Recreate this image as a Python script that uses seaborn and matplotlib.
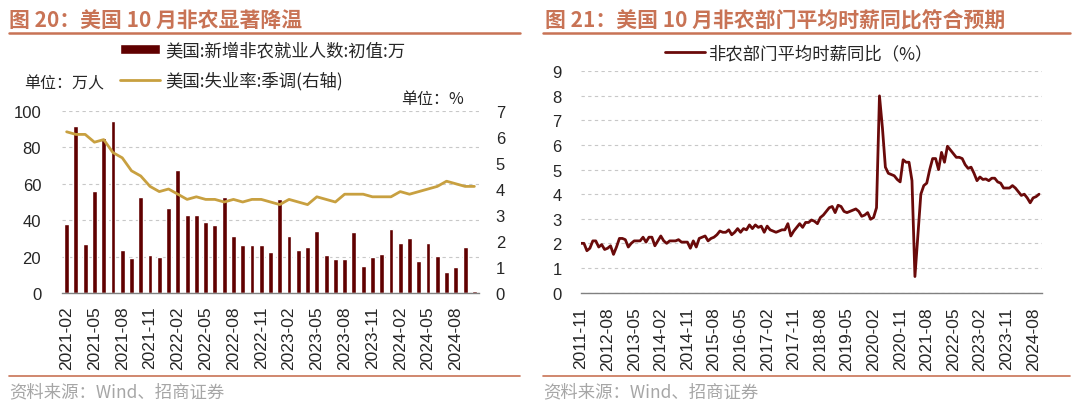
import pandas as pd
import matplotlib
matplotlib.use('Agg')
import matplotlib.pyplot as plt
import seaborn as sns
from matplotlib.lines import Line2D
from matplotlib.patches import Patch

sns.set_style("white")
plt.rcParams['font.family'] = ['Liberation Sans', 'Noto Sans CJK SC']
plt.rcParams['axes.unicode_minus'] = False
CJK = ['Noto Sans CJK SC', 'DejaVu Sans']

# 图20：新增非农（万人）与失业率（%）
nfp_months = pd.period_range('2021-02', '2024-10', freq='M').strftime('%Y-%m').tolist()
nfp_added = [38, 92, 27, 56, 85, 94.5, 23.5, 19.4, 53, 21, 20,
             46.7, 67.8, 43.1, 42.8, 39, 37.2, 52.8, 31.5, 26.3, 26.1, 26.3, 22.3,
             51.7, 31.1, 23.6, 25.3, 33.9, 20.9, 18.7, 18.7, 33.6, 15.0, 19.9, 21.6,
             35.3, 27.5, 30.3, 17.5, 27.2, 20.6, 11.4, 14.2, 25.4, 1.2]
unemp_rate = [6.2, 6.1, 6.1, 5.8, 5.9, 5.4, 5.2, 4.7, 4.5, 4.1, 3.9,
              4.0, 3.8, 3.6, 3.7, 3.6, 3.6, 3.5, 3.6, 3.5, 3.6, 3.6, 3.5,
              3.4, 3.6, 3.5, 3.4, 3.7, 3.6, 3.5, 3.8, 3.8, 3.8, 3.7, 3.7,
              3.7, 3.9, 3.8, 3.9, 4.0, 4.1, 4.3, 4.2, 4.1, 4.1]

# 图21：非农部门平均时薪同比（%）
wage_months = pd.period_range('2011-11', '2024-10', freq='M').strftime('%Y-%m').tolist()
wage_yoy = [2.0, 2.0, 1.7, 1.8, 2.1, 2.1, 1.85, 1.95, 1.75, 1.8,
            1.9, 1.55, 1.85, 2.2, 2.2, 2.15, 1.85, 2.0, 2.1, 2.1,
            2.1, 2.25, 2.05, 2.25, 2.25, 1.9, 2.1, 2.3, 2.1, 2.0,
            2.1, 2.1, 2.1, 2.15, 2.05, 2.05, 2.05, 1.8, 2.1, 1.85,
            2.2, 2.25, 2.3, 2.1, 2.2, 2.25, 2.35, 2.5, 2.45, 2.45,
            2.55, 2.35, 2.45, 2.6, 2.45, 2.6, 2.55, 2.75, 2.6, 2.75,
            2.65, 2.7, 2.45, 2.7, 2.55, 2.5, 2.45, 2.5, 2.55, 2.55,
            2.8, 2.3, 2.5, 2.65, 2.8, 2.65, 2.85, 2.85, 2.95, 2.9,
            2.8, 3.05, 3.15, 3.3, 3.45, 3.5, 3.25, 3.55, 3.5, 3.3,
            3.25, 3.3, 3.35, 3.4, 3.3, 3.1, 3.15, 3.25, 2.98, 3.05,
            3.45, 8.0, 6.7, 5.1, 4.85, 4.8, 4.75, 4.6, 4.5, 5.4,
            5.3, 5.3, 4.55, 0.65, 2.3, 4.0, 4.35, 4.45, 5.0, 5.45,
            5.45, 5.0, 5.7, 5.3, 5.95, 5.8, 5.65, 5.5, 5.5, 5.45,
            5.2, 5.05, 5.1, 4.85, 4.55, 4.7, 4.6, 4.62, 4.55, 4.65,
            4.65, 4.5, 4.45, 4.25, 4.25, 4.25, 4.35, 4.25, 4.1, 3.95,
            4.0, 3.85, 3.65, 3.85, 3.9, 4.0]

BAR = '#600000'
GOLD = '#C8A040'
WAGE = '#6A0A0A'
TITLE = '#C87355'
GRID = '#C8C8C8'
AXIS = '#808080'
FOOT = '#A6A6A6'

W, H = 1080, 414
fig = plt.figure(figsize=(W / 100, H / 100), dpi=100)


def fx(px):
    return px / W


def fy(py):
    return 1 - py / H


def style_axis(ax):
    for side in ['top', 'left', 'right']:
        ax.spines[side].set_visible(False)
    ax.spines['bottom'].set_color(AXIS)
    ax.spines['bottom'].set_linewidth(1)
    ax.yaxis.grid(True, color=GRID, linestyle=(0, (3, 3)), linewidth=0.8)
    ax.xaxis.grid(False)
    ax.set_axisbelow(True)
    ax.set_xlabel('')
    ax.set_ylabel('')


# ---- 左图 ----
df_nfp = pd.DataFrame({'month': nfp_months, 'added': nfp_added, 'rate': unemp_rate})
df_nfp['idx'] = range(len(df_nfp))

ax1 = fig.add_axes([fx(62), fy(294), fx(479 - 62), (294 - 112) / H])
sns.barplot(data=df_nfp, x='idx', y='added', color=BAR, width=0.52, saturation=1, ax=ax1)
ax1b = ax1.twinx()
sns.lineplot(data=df_nfp, x='idx', y='rate', color=GOLD, linewidth=2, ax=ax1b)

style_axis(ax1)
ax1.set_ylim(0, 100)
ax1.set_yticks(range(0, 101, 20))
ax1.set_xlim(-0.5, len(df_nfp) - 0.5)
ax1.set_xticks(range(0, len(df_nfp), 3))
ax1.set_xticklabels(df_nfp['month'][::3], rotation=90)
ax1.tick_params(axis='x', length=0, pad=9, labelsize=12.5)
ax1.tick_params(axis='y', length=0, pad=15, labelsize=12)

for side in ['top', 'left', 'right', 'bottom']:
    ax1b.spines[side].set_visible(False)
ax1b.set_ylim(0, 7)
ax1b.set_yticks(range(0, 8))
ax1b.grid(False)
ax1b.set_ylabel('')
ax1b.tick_params(axis='y', length=0, pad=12, labelsize=12)
ax1b.set_xlim(-0.5, len(df_nfp) - 0.5)

ax1.legend(handles=[Patch(facecolor=BAR), Line2D([], [], color=GOLD, lw=2)],
           labels=['美国:新增非农就业人数:初值:万', '美国:失业率:季调(右轴)'],
           loc='upper left', bbox_to_anchor=(fx(120), fy(42)), bbox_transform=fig.transFigure,
           frameon=False, borderpad=0, borderaxespad=0, handlelength=2.3, handleheight=0.5,
           handletextpad=0.3, labelspacing=0.7, prop={'family': CJK, 'size': 12.5})

fig.text(fx(24), fy(84), '单位：万人', family=CJK, fontsize=11.5, va='center')
fig.text(fx(401), fy(100), '单位：%', family=CJK, fontsize=11.5, va='center')

# ---- 右图 ----
df_wage = pd.DataFrame({'month': wage_months, 'yoy': wage_yoy})
df_wage['idx'] = range(len(df_wage))

ax2 = fig.add_axes([fx(581), fy(293.5), fx(1042 - 581), (293.5 - 72.3) / H])
sns.lineplot(data=df_wage, x='idx', y='yoy', color=WAGE, linewidth=2, ax=ax2)
style_axis(ax2)
ax2.set_ylim(0, 9)
ax2.set_yticks(range(0, 10))
ax2.set_xlim(0, 156)
ax2.set_xticks(range(0, len(df_wage), 9))
ax2.set_xticklabels(df_wage['month'][::9], rotation=90)
ax2.tick_params(axis='x', length=4, width=1, color=AXIS, direction='out', pad=6, labelsize=12.5)
ax2.tick_params(axis='y', length=0, pad=14, labelsize=12)

ax2.legend(handles=[Line2D([], [], color=WAGE, lw=2)], labels=['非农部门平均时薪同比（%）'],
           loc='upper left', bbox_to_anchor=(fx(665), fy(45)), bbox_transform=fig.transFigure,
           frameon=False, borderpad=0, borderaxespad=0, handlelength=2.3,
           handletextpad=0.2, prop={'family': CJK, 'size': 12.5})

# ---- 标题、分隔线与来源 ----
fig.text(fx(8.6), fy(20.5), '图 20：美国 10 月非农显著降温', family=CJK, fontsize=15,
         fontweight='bold', color=TITLE, va='center')
fig.text(fx(545), fy(20.5), '图 21：美国 10 月非农部门平均时薪同比符合预期', family=CJK,
         fontsize=15, fontweight='bold', color=TITLE, va='center')
for x0, x1 in [(8.6, 520), (543, 1070)]:
    fig.add_artist(Line2D([fx(x0), fx(x1)], [fy(34.4), fy(34.4)], color=TITLE, lw=1.8))
    fig.add_artist(Line2D([fx(x0), fx(x1)], [fy(377), fy(377)], color=TITLE, lw=1.2))
fig.text(fx(9.6), fy(392), '资料来源：Wind、招商证券', family=CJK, fontsize=12.5, color=FOOT, va='center')
fig.text(fx(543), fy(392), '资料来源：Wind、招商证券', family=CJK, fontsize=12.5, color=FOOT, va='center')

fig.savefig('out.png', dpi=100)
